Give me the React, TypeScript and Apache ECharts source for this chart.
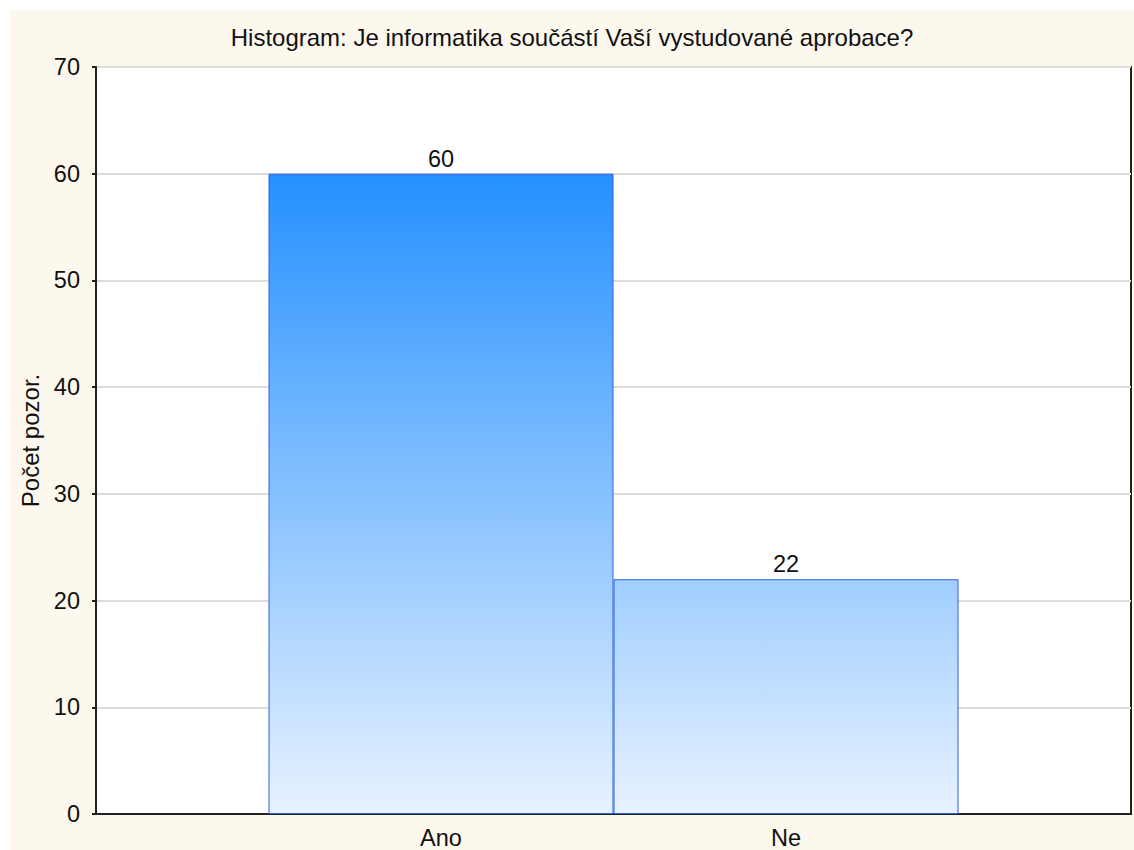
import React, { useEffect, useRef } from "react";
import * as echarts from "echarts";

const titleText = "Histogram: Je informatika součástí Vaší vystudované aprobace?";
const yAxisName = "Počet pozor.";
const categories = ["", "Ano", "Ne", ""];
const counts = [null, 60, 22, null];
const yMin = 0;
const yMax = 70;
const yInterval = 10;

export default function App() {
  const ref = useRef<HTMLDivElement>(null);
  useEffect(() => {
    if (!ref.current) return;
    const chart = echarts.init(ref.current, null, { renderer: "svg" });
    const font = "Liberation Sans, Arial, sans-serif";
    chart.setOption({
      animation: false,
      backgroundColor: "#fdf8ee",
      textStyle: { fontFamily: font },
      title: {
        text: titleText,
        left: "center",
        top: 10,
        textStyle: { fontSize: 24, fontWeight: "normal", color: "#111", fontFamily: font },
      },
      grid: {
        left: 83,
        right: 2,
        top: 57,
        bottom: 36,
        show: true,
        backgroundColor: "#ffffff",
        borderColor: "#222",
        borderWidth: 2,
      },
      xAxis: {
        type: "category",
        data: categories,
        boundaryGap: false,
        axisLine: { show: true, lineStyle: { color: "#222", width: 2 } },
        axisTick: {
          show: true,
          inside: true,
          length: 5,
          interval: (i: number) => i === 1 || i === 2,
          lineStyle: { color: "#222", width: 2 },
        },
        axisLabel: { fontSize: 23.5, color: "#111", margin: 12, fontFamily: font },
        splitLine: { show: false },
      },
      yAxis: {
        type: "value",
        min: yMin,
        max: yMax,
        interval: yInterval,
        name: yAxisName,
        nameLocation: "middle",
        nameGap: 54,
        nameTextStyle: { fontSize: 24, color: "#111", fontFamily: font },
        axisLine: { show: true, lineStyle: { color: "#222", width: 2 } },
        axisTick: { show: true, length: 4, lineStyle: { color: "#222", width: 2 } },
        axisLabel: { fontSize: 23.5, color: "#111", margin: 16, fontFamily: font },
        splitLine: { show: true, lineStyle: { color: "#dcdcdc", width: 2 } },
      },
      series: [
        {
          type: "bar",
          data: counts,
          barWidth: "100%",
          itemStyle: {
            color: new echarts.graphic.LinearGradient(
              0, 164, 0, 804,
              [
                { offset: 0, color: "#2490ff" },
                { offset: 1, color: "#e8f2ff" },
              ],
              true
            ),
            borderColor: "#2f62dc",
            borderWidth: 1,
          },
          label: {
            show: true,
            position: "top",
            distance: 3,
            fontSize: 23.5,
            color: "#111",
            fontFamily: font,
          },
        },
      ],
    });
    return () => chart.dispose();
  }, []);
  return (
    <div style={{ position: "absolute", left: 0, top: 0, width: 1134, height: 850, background: "#fff" }}>
      <div ref={ref} style={{ position: "absolute", left: 10, top: 10, width: 1124, height: 840 }} />
    </div>
  );
}
